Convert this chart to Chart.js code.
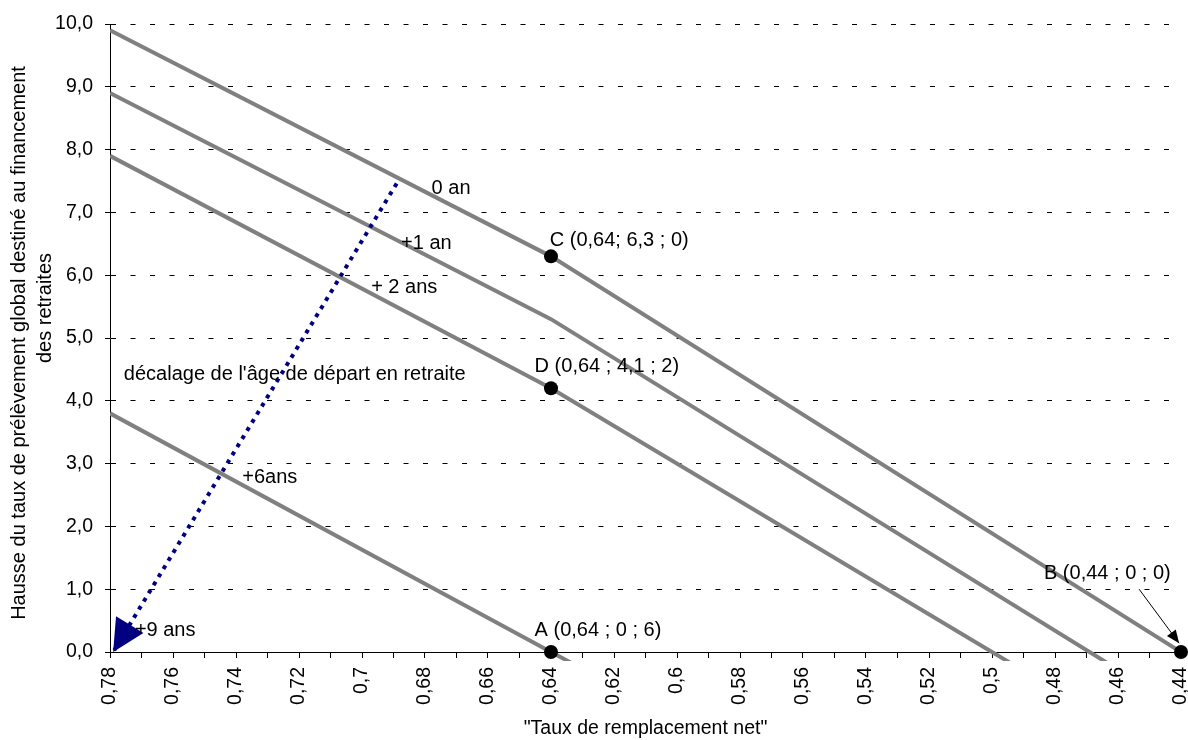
<!DOCTYPE html>
<html lang="fr">
<head>
<meta charset="UTF-8">
<title>Taux de remplacement net</title>
<script src="https://cdn.jsdelivr.net/npm/chart.js"></script>
<style>
  html, body { margin: 0; padding: 0; background: #fff; }
  #cadre { width: 1188px; height: 740px; position: relative; }
</style>
</head>
<body>
<div id="cadre"><canvas id="graphique"></canvas></div>
<script>
// courbes par décalage de l'âge de départ : taux de remplacement (x) / hausse du prélèvement (y)
const tauxAge0 = [0.78, 0.64, 0.44];
const hausseAge0 = [9.9, 6.3, 0];
const tauxAge1 = [0.78, 0.64, 0.46];
const hausseAge1 = [8.9, 5.3, -0.28];
const tauxAge2 = [0.78, 0.64, 0.49];
const hausseAge2 = [7.9, 4.2, -0.3];
const tauxAge6 = [0.78, 0.64, 0.63];
const hausseAge6 = [3.8, 0, -0.27];

// points remarquables A, B, C, D
const nomsPoints = ['A (0,64 ; 0 ; 6)', 'B (0,44 ; 0 ; 0)', 'C (0,64; 6,3 ; 0)', 'D (0,64 ; 4,1 ; 2)'];
const tauxPoints = [0.64, 0.44, 0.64, 0.64];
const haussePoints = [0, 0, 6.3, 4.2];

// flèche pointillée (décalage de l'âge) et flèche vers B
const flecheTaux = [0.689, 0.779];
const flecheHausse = [7.46, 0];
const flecheBTaux = [0.4533, 0.4406];
const flecheBHausse = [1.0, 0.14];

const titreX = '"Taux de remplacement net"';
const titreY = ['Hausse du taux de prélèvement global destiné au financement', 'des retraites'];

// textes posés sur le graphique (coordonnées dans le repère des données)
const etiquettes = [
    { texte: '0 an', x: 0.6779, y: 7.38 },
    { texte: '+1 an', x: 0.6876, y: 6.51 },
    { texte: '+ 2 ans', x: 0.6971, y: 5.81 },
    { texte: "décalage de l'âge de départ en retraite", x: 0.7756, y: 4.42 },
    { texte: '+6ans', x: 0.738, y: 2.78 },
    { texte: '+9 ans', x: 0.7721, y: 0.35 },
    { texte: nomsPoints[2], x: 0.6404, y: 6.56 },
    { texte: nomsPoints[3], x: 0.6452, y: 4.55 },
    { texte: nomsPoints[0], x: 0.6452, y: 0.35 },
    { texte: nomsPoints[1], x: 0.4835, y: 1.25 }
];

const police = '"Liberation Sans", Arial, sans-serif';

function paires(xs, ys) {
    return xs.map((x, i) => ({ x: x, y: ys[i] }));
}

function pointe(ctx, x1, y1, x2, y2, longueur, demiLargeur, couleur) {
    const a = Math.atan2(y2 - y1, x2 - x1);
    const bx = x2 - longueur * Math.cos(a);
    const by = y2 - longueur * Math.sin(a);
    ctx.beginPath();
    ctx.moveTo(x2, y2);
    ctx.lineTo(bx + demiLargeur * Math.sin(a), by - demiLargeur * Math.cos(a));
    ctx.lineTo(bx - demiLargeur * Math.sin(a), by + demiLargeur * Math.cos(a));
    ctx.closePath();
    ctx.fillStyle = couleur;
    ctx.fill();
}

const annotations = {
    id: 'annotations',
    afterDatasetsDraw(chart) {
        const ctx = chart.ctx;
        const px = v => chart.scales.x.getPixelForValue(v);
        const py = v => chart.scales.y.getPixelForValue(v);
        ctx.save();

        // pointe de la flèche pointillée
        pointe(ctx, px(flecheTaux[0]), py(flecheHausse[0]), px(flecheTaux[1]), py(flecheHausse[1]), 32, 16, '#000080');

        // flèche fine vers B
        ctx.strokeStyle = '#000';
        ctx.lineWidth = 1;
        ctx.beginPath();
        ctx.moveTo(px(flecheBTaux[0]), py(flecheBHausse[0]));
        ctx.lineTo(px(flecheBTaux[1]), py(flecheBHausse[1]));
        ctx.stroke();
        pointe(ctx, px(flecheBTaux[0]), py(flecheBHausse[0]), px(flecheBTaux[1]), py(flecheBHausse[1]), 13, 5.5, '#000');

        ctx.font = '20px ' + police;
        ctx.fillStyle = '#000';
        ctx.textAlign = 'left';
        ctx.textBaseline = 'middle';
        etiquettes.forEach(e => ctx.fillText(e.texte, px(e.x), py(e.y)));

        // titre de l'axe vertical, sur deux lignes (la 2e un peu plus haut, comme sous Excel)
        const milieu = (chart.chartArea.top + chart.chartArea.bottom) / 2;
        ctx.translate(0, milieu);
        ctx.rotate(-Math.PI / 2);
        ctx.textAlign = 'center';
        ctx.fillText(titreY[0], -5, 19.5);
        ctx.fillText(titreY[1], 30, 45);
        ctx.restore();
    }
};

const coupe = { left: 0, top: 0, right: 0, bottom: 9 };

const dados = {
    datasets: [
        {
            label: 'points',
            data: paires(tauxPoints, haussePoints),
            showLine: false,
            pointRadius: 7,
            pointBackgroundColor: '#000',
            pointBorderWidth: 0,
            clip: false
        },
        {
            label: 'décalage',
            data: paires(flecheTaux, flecheHausse),
            showLine: true,
            borderColor: '#000080',
            borderWidth: 4,
            borderDash: [4, 5.5],
            pointRadius: 0,
            clip: false
        },
        {
            label: '0 an',
            data: paires(tauxAge0, hausseAge0),
            showLine: true, borderColor: '#808080', borderWidth: 4, pointRadius: 0, clip: coupe
        },
        {
            label: '+1 an',
            data: paires(tauxAge1, hausseAge1),
            showLine: true, borderColor: '#808080', borderWidth: 4, pointRadius: 0, clip: coupe
        },
        {
            label: '+ 2 ans',
            data: paires(tauxAge2, hausseAge2),
            showLine: true, borderColor: '#808080', borderWidth: 4, pointRadius: 0, clip: coupe
        },
        {
            label: '+6ans',
            data: paires(tauxAge6, hausseAge6),
            showLine: true, borderColor: '#808080', borderWidth: 4, pointRadius: 0, clip: coupe
        }
    ]
};

const config = {
    type: 'scatter',
    data: dados,
    options: {
        responsive: true,
        maintainAspectRatio: false,
        animation: false,
        layout: { padding: { top: 24, right: 6, bottom: 0, left: 0 } },
        plugins: { legend: { display: false }, tooltip: { enabled: false } },
        scales: {
            x: {
                type: 'linear',
                reverse: true,
                min: 0.44,
                max: 0.78,
                afterFit(s) { s.height = 88; s.paddingLeft = 0; s.paddingRight = 0; },
                grid: { drawOnChartArea: false, tickLength: 6, tickColor: '#000' },
                border: { color: '#000', width: 1 },
                ticks: {
                    stepSize: 0.01,
                    autoSkip: false,
                    minRotation: 90,
                    maxRotation: 90,
                    padding: 9,
                    color: '#000',
                    font: { family: police, size: 19.5 },
                    callback: function (v) {
                        const c = Math.round(v * 100);
                        if (c % 2 !== 0) return '';
                        return String(c / 100).replace('.', ',');
                    }
                },
                title: {
                    display: true,
                    text: titreX,
                    color: '#000',
                    font: { family: police, size: 19.5 },
                    padding: { top: 0, bottom: 0 }
                }
            },
            y: {
                min: 0,
                max: 10,
                afterFit(s) { s.width = 110; s.paddingTop = 0; s.paddingBottom = 0; },
                grid: { color: '#000', tickLength: 5, tickColor: '#000' },
                border: { color: '#000', width: 1, dash: [5, 14.5] },
                ticks: {
                    stepSize: 1,
                    padding: 12,
                    color: '#000',
                    font: { family: police, size: 19.5 },
                    callback: v => v.toFixed(1).replace('.', ',')
                }
            }
        }
    },
    plugins: [annotations]
};

new Chart(document.getElementById('graphique'), config);
</script>
</body>
</html>
